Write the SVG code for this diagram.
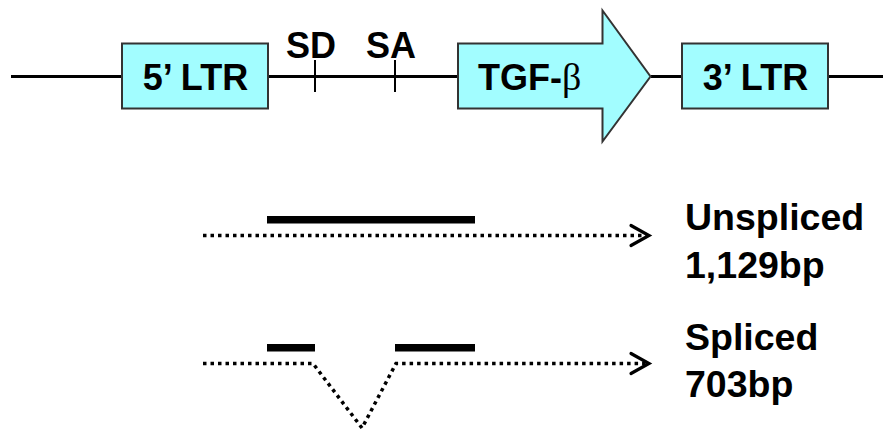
<svg xmlns="http://www.w3.org/2000/svg" width="883" height="431" viewBox="0 0 883 431">
<style>
.box{fill:#a2fdff;stroke:#333;stroke-width:2}
.lbl{font-family:"Liberation Sans",Arial,sans-serif;font-weight:bold;font-size:36px;fill:#000}
.big{font-size:37.5px}
.line{stroke:#000;stroke-width:3;fill:none}
.tick{stroke:#000;stroke-width:2;fill:none}
.bar{fill:#000}
.dot{stroke:#000;stroke-width:3.5;stroke-dasharray:3.5 4;fill:none}
.head{stroke:#000;stroke-width:3.2;fill:none;stroke-linecap:round;stroke-linejoin:miter}
</style>
<rect width="883" height="431" fill="#fff"/>
<g id="connectors">
<line class="line" x1="11" y1="76.5" x2="122" y2="76.5"/>
<line class="line" x1="268" y1="76.5" x2="458" y2="76.5"/>
<line class="line" x1="651" y1="76.5" x2="682" y2="76.5"/>
<line class="line" x1="828" y1="76.5" x2="883" y2="76.5"/>
</g>
<g id="ltr5">
<rect class="box" x="122" y="43.5" width="146" height="65"/>
<text class="lbl" x="195.5" y="89.5" text-anchor="middle">5’ LTR</text>
</g>
<g id="sd">
<line class="tick" x1="315" y1="60" x2="315" y2="92"/>
<text class="lbl" x="311" y="57.5" text-anchor="middle">SD</text>
</g>
<g id="sa">
<line class="tick" x1="395" y1="60" x2="395" y2="92"/>
<text class="lbl" x="391" y="57.5" text-anchor="middle">SA</text>
</g>
<g id="tgf">
<polygon class="box" points="458,43.5 602.5,43.5 602.5,10.5 650.5,76.5 602.5,141.5 602.5,108.5 458,108.5"/>
<text class="lbl" x="478" y="89.5">TGF-<tspan font-family="'Liberation Serif','DejaVu Serif',serif" font-weight="normal" font-size="38">β</tspan></text>
</g>
<g id="ltr3">
<rect class="box" x="682" y="43.5" width="146" height="65"/>
<text class="lbl" x="755.5" y="89.5" text-anchor="middle">3’ LTR</text>
</g>
<g id="unspliced">
<rect class="bar" x="267" y="216" width="208" height="7.5"/>
<line class="dot" x1="203" y1="235.5" x2="646" y2="235.5"/>
<polyline class="head" points="631,225.5 649,235.5 631,245.5"/>
<text class="lbl big" x="685" y="230">Unspliced</text>
<text class="lbl big" x="685" y="278">1,129bp</text>
</g>
<g id="spliced">
<rect class="bar" x="267" y="344" width="48" height="7.5"/>
<rect class="bar" x="395" y="344" width="80" height="7.5"/>
<polyline class="dot" points="203,363.5 313,363.5 362,428 396,363.5 646,363.5"/>
<polyline class="head" points="631,353.5 649,363.5 631,373.5"/>
<text class="lbl big" x="685" y="350">Spliced</text>
<text class="lbl big" x="685" y="397">703bp</text>
</g>
</svg>
